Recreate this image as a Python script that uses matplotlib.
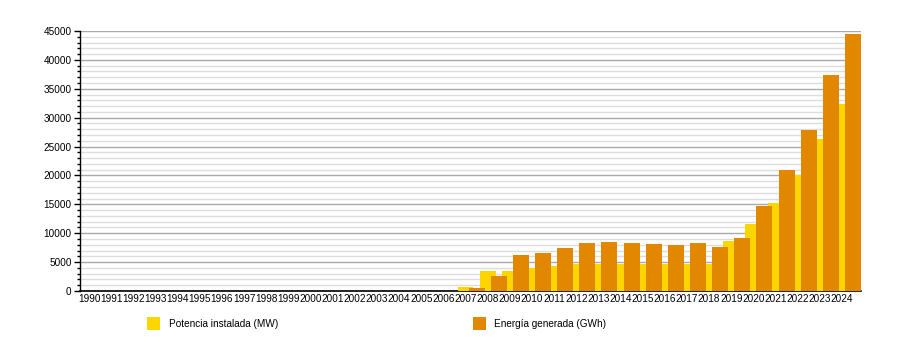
import matplotlib
matplotlib.use("Agg")
import matplotlib.pyplot as plt
from matplotlib.ticker import MultipleLocator
import numpy as np

plt.rcParams['font.family'] = ['Liberation Sans', 'DejaVu Sans']

years = list(range(1990, 2025))
potencia = [0]*17 + [690, 3400, 3480, 4000, 4330, 4730, 4730, 4750, 4740, 4740, 4740, 4740,
                     8660, 11600, 15250, 20100, 26300, 32400]
energia = [0]*17 + [500, 2600, 6230, 6630, 7440, 8370, 8480, 8370, 8150, 7970, 8320, 7630,
                    9180, 14730, 20970, 27900, 37430, 44540]
labels = [str(y) for y in years]
series_names = ["Potencia instalada (MW)", "Energía generada (GWh)"]
colors = ["#FFD500", "#E28800"]

fig = plt.figure(figsize=(9, 3.5), dpi=100)
ax = fig.add_axes([80/900, 59/350, 781/900, 260/350])

x = np.arange(len(years))
w = 0.72
ax.bar(x, potencia, width=w, color=colors[0], zorder=3, linewidth=0)
ax.bar(x + 0.5, energia, width=w, color=colors[1], zorder=4, linewidth=0)

ax.set_xlim(-0.36 - 0.05, 34 + 0.5 + 0.36)
ax.set_ylim(0, 45000)
ax.yaxis.set_major_locator(MultipleLocator(5000))
ax.yaxis.set_minor_locator(MultipleLocator(1000))
ax.grid(which='major', axis='y', color='#aaaaaa', linewidth=1.0, zorder=1)
ax.grid(which='minor', axis='y', color='#dddddd', linewidth=1.0, zorder=0)
ax.set_axisbelow(True)
ax.set_xticks(x)
ax.set_xticklabels(labels, fontsize=7.2)
ax.tick_params(axis='x', length=0, pad=2)
ax.tick_params(axis='y', which='major', length=4, width=1, labelsize=7.2, pad=2)
ax.tick_params(axis='y', which='minor', length=2, width=1)
for s in ['top', 'right']:
    ax.spines[s].set_visible(False)
ax.spines['left'].set_linewidth(1)
ax.spines['bottom'].set_linewidth(1.2)

# legend
fig.add_artist(plt.Rectangle((147/900, 1 - 330/350), 13/900, 13/350, transform=fig.transFigure,
                             facecolor=colors[0], edgecolor='none'))
fig.text(169/900, 1 - 324/350, series_names[0], fontsize=7.2, va='center', ha='left')
fig.add_artist(plt.Rectangle((473/900, 1 - 330/350), 13/900, 13/350, transform=fig.transFigure,
                             facecolor=colors[1], edgecolor='none'))
fig.text(494/900, 1 - 324/350, series_names[1], fontsize=7.2, va='center', ha='left')

fig.savefig("out.png", dpi=100)
